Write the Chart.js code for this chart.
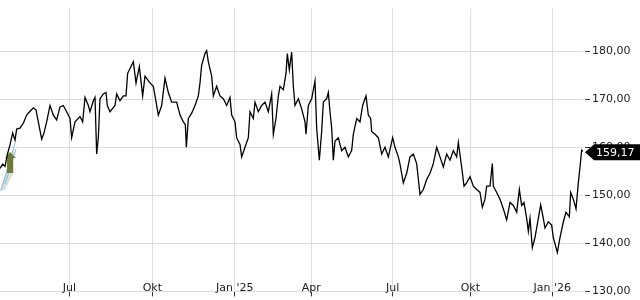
<!DOCTYPE html>
<html>
<head>
<meta charset="utf-8">
<script src="https://cdn.jsdelivr.net/npm/chart.js@4.4.1/dist/chart.umd.min.js"></script>
<style>
html, body { margin: 0; padding: 0; background: #fff; }
#wrap { width: 640px; height: 300px; }
</style>
</head>
<body>
<div id="wrap"><canvas id="priceChart"></canvas></div>
<script>
// Time index (~3 units per pixel) and close prices
const times = [
    0, 8, 15, 22, 30, 38, 45, 50, 60, 70, 80, 90, 100, 108, 115, 125, 132, 140, 150, 160,
    170, 180, 190, 200, 210, 215, 225, 240, 248, 255, 265, 270, 280, 285, 290, 295, 300, 310, 318, 322,
    330, 345, 350, 360, 370, 378, 383, 390, 400, 408, 418, 428, 435, 450, 460, 465, 475, 485, 495, 505,
    515, 530, 540, 550, 556, 559, 565, 575, 585, 595, 600, 605, 615, 620, 625, 635, 640, 650, 660, 670,
    680, 690, 695, 705, 710, 720, 725, 735, 745, 750, 760, 765, 775, 785, 795, 805, 815, 820, 828, 835,
    840, 850, 858, 862, 868, 875, 880, 885, 895, 905, 915, 918, 925, 935, 945, 950, 958, 965, 970, 980,
    985, 990, 995, 1000, 1005, 1015, 1025, 1035, 1045, 1055, 1060, 1070, 1080, 1088, 1098, 1105, 1112, 1115, 1125, 1135,
    1145, 1155, 1165, 1178, 1185, 1195, 1200, 1210, 1220, 1230, 1240, 1250, 1260, 1270, 1280, 1290, 1300, 1310, 1320, 1330,
    1340, 1350, 1360, 1370, 1375, 1385, 1392, 1400, 1410, 1420, 1430, 1440, 1447, 1455, 1460, 1470, 1477, 1480, 1490, 1500,
    1510, 1520, 1530, 1540, 1550, 1558, 1565, 1572, 1580, 1585, 1590, 1597, 1605, 1615, 1622, 1630, 1635, 1645, 1655, 1660,
    1672, 1680, 1690, 1698, 1708, 1712, 1720, 1728, 1735, 1740, 1745, 1749
];
const closes = [
    155.6, 156.5, 156.0, 158.5, 160.5, 163.0, 161.5, 163.8, 164.0, 165.0, 166.7, 167.5, 168.2, 167.8, 165.3, 161.7, 163.0, 165.3, 168.7, 166.7,
    165.7, 168.4, 168.7, 167.4, 166.0, 162.0, 165.3, 166.4, 165.3, 170.4, 168.7, 167.4, 169.7, 170.4, 158.6, 162.0, 170.1, 171.1, 171.4, 168.7,
    167.4, 168.7, 171.1, 169.7, 170.7, 170.7, 175.4, 176.4, 177.8, 173.4, 176.8, 170.7, 174.8, 173.4, 172.7, 170.7, 166.7, 168.7, 174.4, 171.4,
    169.4, 169.4, 166.7, 165.3, 164.7, 160.0, 166.0, 167.1, 168.7, 170.7, 173.4, 177.1, 179.5, 180.1, 177.8, 174.8, 170.7, 172.7, 170.7, 170.1,
    168.7, 170.4, 166.7, 165.3, 162.0, 160.6, 158.0, 160.0, 162.0, 167.4, 166.0, 169.4, 167.4, 168.7, 169.4, 167.4, 171.1, 162.7, 166.0, 170.7,
    172.7, 172.0, 175.4, 179.5, 176.1, 179.8, 172.7, 168.7, 170.1, 168.0, 165.3, 162.7, 168.7, 170.1, 173.8, 164.0, 157.3, 163.3, 169.4, 170.1,
    171.4, 167.4, 164.0, 157.3, 161.3, 162.0, 159.3, 160.0, 158.0, 159.3, 162.7, 166.0, 165.3, 168.7, 170.7, 166.7, 166.0, 163.3, 162.7, 162.0,
    158.6, 160.0, 158.0, 162.0, 160.0, 158.0, 156.5, 152.6, 154.6, 158.0, 158.6, 156.6, 150.2, 151.2, 153.3, 154.6, 156.6, 160.0, 158.0, 155.9,
    158.6, 157.3, 159.3, 158.0, 161.0, 155.9, 151.9, 152.6, 153.9, 151.9, 151.2, 150.6, 147.5, 149.2, 151.9, 151.9, 156.6, 151.9, 150.6, 149.2,
    147.2, 144.9, 148.5, 147.9, 146.5, 151.2, 147.9, 148.5, 145.2, 142.5, 145.2, 139.1, 141.2, 145.2, 148.0, 145.2, 143.2, 144.5, 143.8, 141.2,
    138.1, 141.2, 144.5, 146.5, 145.5, 150.6, 149.2, 147.2, 152.6, 155.9, 159.4, 159.17
];
const tickTimes = [208, 457, 704, 934, 1178, 1411, 1657];
const tickLabels = ['Jul', 'Okt', "Jan '25", 'Apr', 'Jul', 'Okt', "Jan '26"];
const priceTicks = [130, 140, 150, 160, 170, 180];
const lastPrice = 159.17;

const fontFamily = '"DejaVu Sans", sans-serif';

function formatPrice(v) {
    return v.toFixed(2).replace('.', ',');
}

// small marker in the lower left corner
const cornerMarker = {
    id: 'cornerMarker',
    beforeDatasetsDraw(chart) {
        const ctx = chart.ctx;
        const l = chart.chartArea.left;
        ctx.save();
        ctx.fillStyle = 'rgba(200,200,200,0.6)';
        ctx.beginPath();
        ctx.moveTo(l, 190);
        ctx.lineTo(l + 14, 146);
        ctx.lineTo(l + 14, 172);
        ctx.lineTo(l + 5, 190);
        ctx.closePath();
        ctx.fill();
        ctx.strokeStyle = '#7cc4d8';
        ctx.lineWidth = 1;
        ctx.beginPath();
        ctx.moveTo(l + 1, 191);
        ctx.lineTo(l + 15, 143);
        ctx.moveTo(l + 5, 184);
        ctx.lineTo(l + 16, 149);
        ctx.stroke();
        ctx.fillStyle = '#6f7b34';
        ctx.beginPath();
        ctx.moveTo(l + 5, 158);
        ctx.lineTo(l + 10, 152);
        ctx.lineTo(l + 16, 158);
        ctx.lineTo(l + 13, 158);
        ctx.lineTo(l + 13, 173);
        ctx.lineTo(l + 7, 173);
        ctx.lineTo(l + 7, 158);
        ctx.closePath();
        ctx.fill();
        ctx.restore();
    }
};

// black price tag on the right axis
const lastPriceTag = {
    id: 'lastPriceTag',
    afterDraw(chart) {
        const { ctx, chartArea } = chart;
        const py = chart.scales.y.getPixelForValue(lastPrice) + 1;
        const left = chartArea.right + 2;
        const right = chart.width;
        const h = 16;
        ctx.save();
        ctx.fillStyle = '#000';
        ctx.beginPath();
        ctx.moveTo(left, py);
        ctx.lineTo(left + 9, py - h / 2);
        ctx.lineTo(right, py - h / 2);
        ctx.lineTo(right, py + h / 2);
        ctx.lineTo(left + 9, py + h / 2);
        ctx.closePath();
        ctx.fill();
        ctx.fillStyle = '#fff';
        ctx.font = '11px ' + fontFamily;
        ctx.textBaseline = 'middle';
        ctx.textAlign = 'left';
        ctx.fillText(formatPrice(lastPrice), left + 11, py + 0.5);
        ctx.restore();
    }
};

const ctx = document.getElementById('priceChart').getContext('2d');
const priceChart = new Chart(ctx, {
    type: 'line',
    data: {
        datasets: [{
            data: times.map((t, i) => ({ x: t, y: closes[i] })),
            borderColor: '#000',
            borderWidth: 1.3,
            pointRadius: 0,
            tension: 0,
            fill: false
        }]
    },
    options: {
        responsive: true,
        maintainAspectRatio: false,
        animation: false,
        layout: { padding: 0 },
        plugins: {
            legend: { display: false },
            tooltip: { enabled: false }
        },
        scales: {
            x: {
                type: 'linear',
                min: 0,
                max: 1749,
                afterBuildTicks: scale => {
                    scale.ticks = tickTimes.map(v => ({ value: v }));
                },
                afterFit: scale => {
                    scale.height = 8;
                },
                ticks: {
                    autoSkip: false,
                    maxRotation: 0,
                    mirror: true,
                    padding: -3,
                    color: '#222',
                    font: { family: fontFamily, size: 11 },
                    callback: (value, index) => tickLabels[index]
                },
                grid: {
                    color: '#dddddd',
                    tickColor: '#333',
                    tickLength: 5
                },
                border: { display: false }
            },
            y: {
                position: 'right',
                min: 130,
                max: 188.87,
                afterBuildTicks: scale => {
                    scale.ticks = priceTicks.map(v => ({ value: v }));
                },
                afterFit: scale => {
                    scale.width = 57;
                },
                ticks: {
                    padding: 2,
                    color: '#222',
                    font: { family: fontFamily, size: 11 },
                    callback: value => formatPrice(value)
                },
                grid: {
                    color: '#dddddd',
                    tickColor: '#333',
                    tickLength: 7,
                    tickBorderDash: [5, 2],
                    tickBorderDashOffset: 5
                },
                border: { display: false }
            }
        }
    },
    plugins: [cornerMarker, lastPriceTag]
});
</script>
</body>
</html>
